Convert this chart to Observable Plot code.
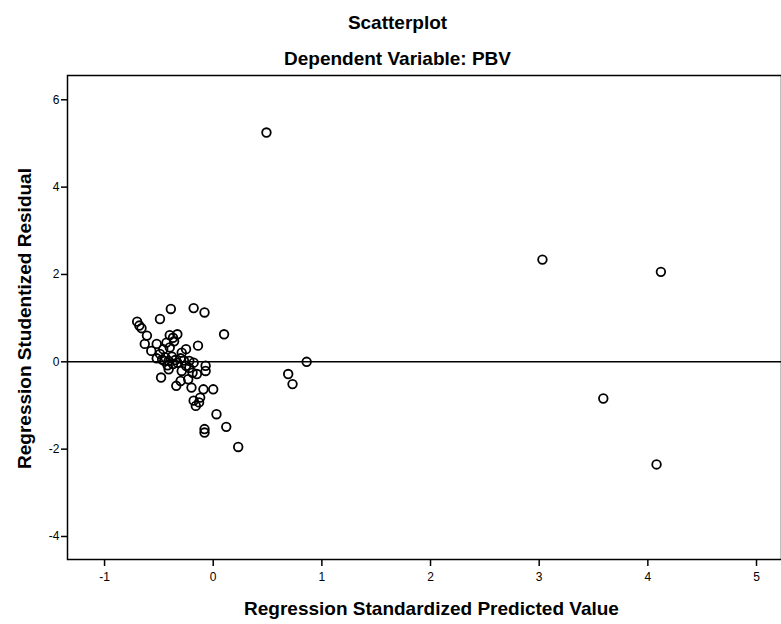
<!DOCTYPE html>
<html><head><meta charset="utf-8">
<script src="https://cdn.jsdelivr.net/npm/d3@7"></script>
<script src="https://cdn.jsdelivr.net/npm/@observablehq/plot@0.6"></script>
<style>body{margin:0;background:#fff} svg{display:block}</style>
</head><body><div id="chart"></div>
<script>
const title = "Scatterplot";
const subtitle = "Dependent Variable: PBV";
const xLabel = "Regression Standardized Predicted Value";
const yLabel = "Regression Studentized Residual";
const xTicks = [-1, 0, 1, 2, 3, 4, 5];
const yTicks = [-4, -2, 0, 2, 4, 6];

// Regression Standardized Predicted Value
const predicted = [
  0.49, 3.03, 4.12, 3.59, 4.08,
  0.69, 0.73, 0.86,
  -0.70, -0.68, -0.66, -0.49, -0.39, -0.18, -0.08, 0.10, -0.61, -0.63, -0.52, -0.40, -0.33, -0.37,
  -0.14, -0.25, -0.29, -0.57, -0.49, -0.43, -0.40, -0.46, -0.36,
  -0.52, -0.47, -0.44, -0.41, -0.38, -0.35, -0.33, -0.30, -0.27, -0.45, -0.37, -0.42, -0.22, -0.18,
  -0.48, -0.41, -0.34, -0.30, -0.23, -0.20, -0.15, -0.07, -0.07, -0.09, 0.00, -0.12, -0.18, -0.16,
  -0.29, -0.25, -0.19, -0.22,
  -0.13, 0.03, -0.08, -0.08, 0.12, 0.23
];
// Regression Studentized Residual
const residual = [
  5.25, 2.34, 2.06, -0.84, -2.35,
  -0.28, -0.51, 0.00,
  0.92, 0.83, 0.77, 0.98, 1.21, 1.23, 1.13, 0.63, 0.60, 0.41, 0.41, 0.61, 0.63, 0.55,
  0.37, 0.29, 0.21, 0.25, 0.18, 0.44, 0.33, 0.29, 0.47,
  0.08, 0.05, 0.10, 0.02, 0.12, 0.04, -0.02, 0.08, 0.03, 0.02, -0.05, -0.08, 0.02, -0.02,
  -0.36, -0.17, -0.55, -0.44, -0.40, -0.59, -0.28, -0.09, -0.21, -0.63, -0.63, -0.82, -0.89, -1.01,
  -0.21, -0.09, -0.25, -0.14,
  -0.93, -1.20, -1.54, -1.62, -1.49, -1.95
];

const points = predicted.map((x, i) => ({x, y: residual[i]}));
const fmt = d => String(d);
const font = "'Liberation Sans', Arial, sans-serif";
const labelStyle = {fontSize: 19, fontWeight: "bold", lineAnchor: "middle", textAnchor: "middle"};

const chart = Plot.plot({
  width: 781, height: 624,
  marginLeft: 67, marginRight: 0, marginTop: 75, marginBottom: 65,
  style: {fontFamily: font, background: "#fff", color: "#000"},
  x: {domain: [-1.341, 5.23], label: null},
  y: {domain: [-4.527, 6.556], label: null},
  marks: [
    Plot.frame({stroke: "#000", strokeWidth: 1.5}),
    Plot.ruleY([0], {stroke: "#000", strokeWidth: 1.5}),
    Plot.axisX({ticks: xTicks, tickFormat: fmt, tickSize: 7, tickPadding: 6, fontSize: 12, strokeWidth: 1.5, label: null}),
    Plot.axisY({ticks: yTicks, tickFormat: fmt, tickSize: 6, tickPadding: 2, fontSize: 12, strokeWidth: 1.5, label: null}),
    Plot.dot(points, {x: "x", y: "y", r: 4.3, stroke: "#000", strokeWidth: 1.8, fill: "none"}),
    Plot.text([title], {frameAnchor: "top", dx: -27, dy: -53, ...labelStyle}),
    Plot.text([subtitle], {frameAnchor: "top", dx: -27, dy: -17, ...labelStyle}),
    Plot.text([xLabel], {frameAnchor: "bottom", dx: 7, dy: 49, ...labelStyle}),
    Plot.text([yLabel], {frameAnchor: "left", dx: -43, dy: 1, rotate: -90, ...labelStyle})
  ]
});
document.getElementById("chart").append(chart);
</script>
</body></html>
